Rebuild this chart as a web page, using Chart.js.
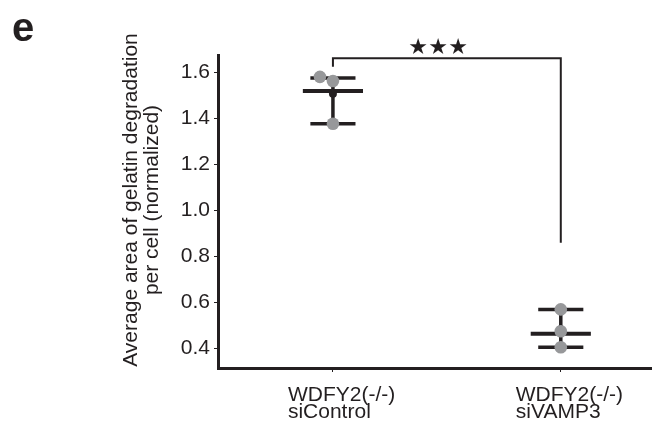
<!DOCTYPE html>
<html><head><meta charset="utf-8">
<script src="https://cdn.jsdelivr.net/npm/chart.js@4"></script>
<style>html,body{margin:0;padding:0;background:#fff}#wrap{width:658px;height:432px;position:relative}</style>
</head><body><div id="wrap"><canvas id="c" width="658" height="432"></canvas></div>
<script>
// ---- data ----
const categories = [['WDFY2(-/-)', 'siControl'], ['WDFY2(-/-)', 'siVAMP3']];
const controlValues = [1.580, 1.562, 1.376];
const vamp3Values = [0.568, 0.473, 0.403];
const meanValues = [1.518, 0.462];
const errLower = [1.376, 0.403];
const errUpper = [1.575, 0.568];
const yTickValues = [0.4, 0.6, 0.8, 1.0, 1.2, 1.4, 1.6];
const bracketLevels = [1.624, 1.661, 0.858]; // left foot, top, right foot
const sigLabel = '★★★';
const panelLabel = 'e';
const yTitle = ['Average area of gelatin degradation', 'per cell (normalized)'];

// ---- styling ----
const INK = '#231f20';
const GRAY = '#97989a';
const jitter = [[-0.057, 0, 0], [0, 0, 0]];
const groups = [controlValues, vamp3Values];

const datasets = [];
groups.forEach((vals, i) => {
  const x = i + 1;
  datasets.push({ data: vals.map((v, k) => ({ x: x + jitter[i][k], y: v })), backgroundColor: GRAY, borderWidth: 0, pointRadius: 6.3, order: 0, clip: false });
  const mean = vals.reduce((a, b) => a + b, 0) / vals.length;
  datasets.push({ data: [{ x: x, y: mean }], backgroundColor: INK, borderWidth: 0, pointRadius: 4, order: 1, clip: false });
  const line = (pts, w) => datasets.push({ data: pts, showLine: true, borderColor: INK, borderWidth: w, pointRadius: 0, order: 2, clip: false, borderCapStyle: 'butt' });
  line([{ x: x, y: errLower[i] }, { x: x, y: errUpper[i] }], 3.5);
  line([{ x: x - 0.099, y: errUpper[i] }, { x: x + 0.099, y: errUpper[i] }], 3.5);
  line([{ x: x - 0.099, y: errLower[i] }, { x: x + 0.099, y: errLower[i] }], 3.5);
  line([{ x: x - 0.132, y: meanValues[i] }, { x: x + 0.132, y: meanValues[i] }], 4);
});
datasets.push({ data: [{ x: 1, y: bracketLevels[0] }, { x: 1, y: bracketLevels[1] }, { x: 2, y: bracketLevels[1] }, { x: 2, y: bracketLevels[2] }],
  showLine: true, borderColor: INK, borderWidth: 2, pointRadius: 0, order: 3, clip: false, borderJoinStyle: 'miter' });

const textPlugin = {
  id: 'texts',
  afterDraw(chart) {
    const ctx = chart.ctx;
    const xs = chart.scales.x;
    ctx.save();
    ctx.fillStyle = INK;
    // panel label
    ctx.font = 'bold 40px "Liberation Sans", Arial, sans-serif';
    ctx.textAlign = 'left'; ctx.textBaseline = 'alphabetic';
    ctx.fillText(panelLabel, 12, 41);
    // y title
    ctx.font = '21px "Liberation Sans", Arial, sans-serif';
    ctx.textAlign = 'center';
    const base = [137, 158];
    yTitle.forEach((t, k) => {
      ctx.save();
      ctx.translate(base[k], 200);
      ctx.rotate(-Math.PI / 2);
      ctx.fillText(t, 0, 0);
      ctx.restore();
    });
    // significance stars
    ctx.font = '22px "DejaVu Sans", sans-serif';
    ctx.textBaseline = 'middle';
    const cx = xs.getPixelForValue(1.462);
    const stars = Array.from(sigLabel);
    stars.forEach((s, k) => ctx.fillText(s, cx + (k - (stars.length - 1) / 2) * 20, 48));
    ctx.restore();
  }
};

const noPad = s => { s.paddingLeft = 0; s.paddingRight = 0; s.paddingTop = 0; s.paddingBottom = 0; };

new Chart(document.getElementById('c'), {
  type: 'scatter',
  data: { datasets },
  options: {
    responsive: false, animation: false, devicePixelRatio: 1,
    layout: { padding: { left: 0, top: 55, right: 0, bottom: 0 } },
    plugins: { legend: { display: false }, tooltip: { enabled: false } },
    scales: {
      x: {
        type: 'linear', min: 0.4956, max: 2.399,
        afterBuildTicks: s => { s.ticks = [{ value: 1 }, { value: 2 }]; },
        afterFit: s => { s.height = 64; noPad(s); },
        grid: { display: true, drawOnChartArea: false, drawTicks: true, tickLength: 4, color: INK, lineWidth: 1 },
        border: { display: true, width: 3, color: INK },
        ticks: {
          callback: v => categories[Math.round(v) - 1],
          align: 'start', labelOffset: -45, padding: 14, color: INK,
          font: { family: '"Liberation Sans", Arial, sans-serif', size: 21, lineHeight: 0.84 },
          maxRotation: 0, autoSkip: false
        }
      },
      y: {
        type: 'linear', min: 0.313, max: 1.675,
        afterBuildTicks: s => { s.ticks = yTickValues.map(v => ({ value: v })); },
        afterFit: s => { s.width = 218; noPad(s); },
        grid: { display: true, drawOnChartArea: false, drawTicks: true, tickLength: 4, color: INK, lineWidth: 1 },
        border: { display: true, width: 3, color: INK },
        ticks: {
          callback: v => Number(v).toFixed(1), padding: 4, color: INK,
          font: { family: '"Liberation Sans", Arial, sans-serif', size: 21 }
        }
      }
    }
  },
  plugins: [textPlugin]
});
</script></body></html>
